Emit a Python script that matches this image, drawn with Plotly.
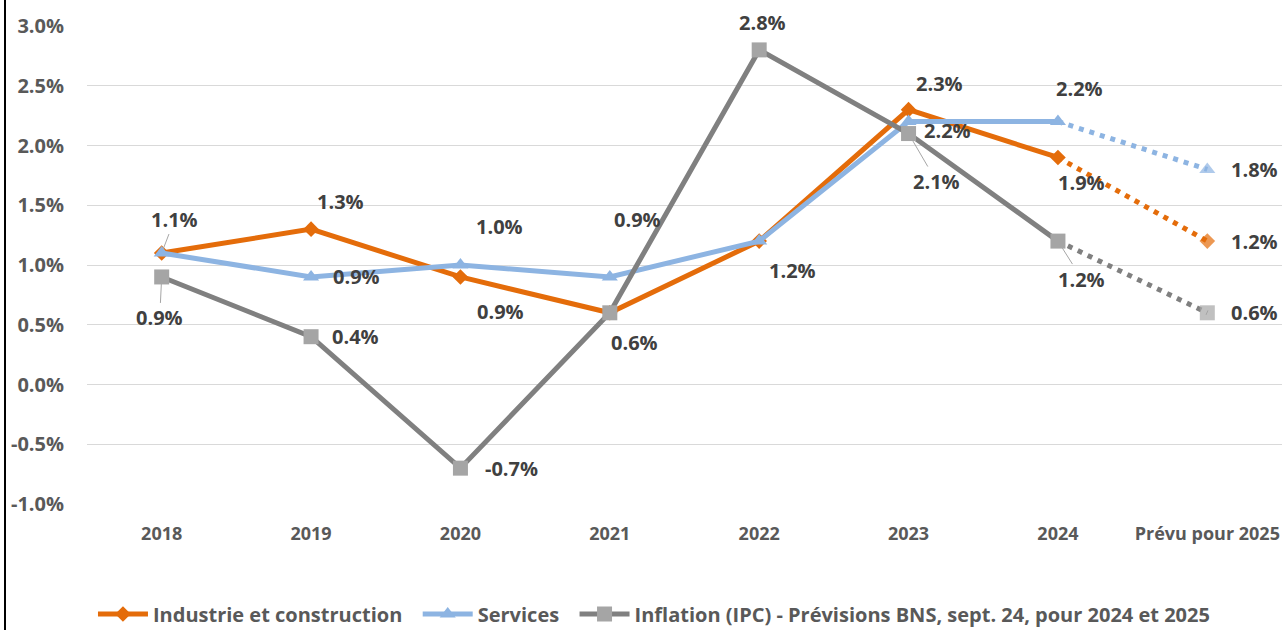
import plotly.graph_objects as go

categories = ["2018", "2019", "2020", "2021", "2022", "2023", "2024", "Prévu pour 2025"]
industrie = [1.1, 1.3, 0.9, 0.6, 1.2, 2.3, 1.9, 1.2]
services = [1.1, 0.9, 1.0, 0.9, 1.2, 2.2, 2.2, 1.8]
inflation = [0.9, 0.4, -0.7, 0.6, 2.8, 2.1, 1.2, 0.6]
y_ticks = [-1.0, -0.5, 0.0, 0.5, 1.0, 1.5, 2.0, 2.5, 3.0]

names = ["Industrie et construction", "Services",
         "Inflation (IPC) - Prévisions BNS, sept. 24, pour 2024 et 2025"]

ORANGE = "#E46C0A"
BLUE = "#8DB4E2"
GRAY_LINE = "#808080"
GRAY_MARK = "#A5A5A5"
LABEL_COL = "#404040"
AXIS_COL = "#595959"
FONT = "Open Sans"

n_hist = 7  # 2018..2024 solid, 2025 forecast dotted

series = [
    (industrie, names[0], ORANGE, ORANGE, "diamond", 12),
    (services, names[1], BLUE, BLUE, "triangle-up", 14),
    (inflation, names[2], GRAY_LINE, GRAY_MARK, "square", 15),
]

fig = go.Figure()

# forecast dotted segments (drawn first)
for vals, name, lc, mc, sym, ms in series:
    fig.add_trace(go.Scatter(
        x=categories[n_hist - 1:], y=vals[n_hist - 1:], mode="lines+markers",
        line=dict(color=lc, width=5, dash="5px,6px"),
        marker=dict(symbol=sym, size=[0, ms], color=mc, line=dict(width=0)),
        showlegend=False, hoverinfo="skip"))

# solid historical lines
for vals, name, lc, mc, sym, ms in series:
    fig.add_trace(go.Scatter(
        x=categories[:n_hist], y=vals[:n_hist], mode="lines+markers",
        name=name + "\u00a0\u00a0",
        line=dict(color=lc, width=5),
        marker=dict(symbol=sym, size=ms, color=mc, line=dict(width=0))))

# data label offsets (pixels) per series; None = label not shown
off_ind = [(13, -34, True), (29, -28, False), (40, 35, False), (25, 30, False),
           (33, 29, False), (31, -26, False), (24, 25, False), (47, 0, False)]
off_srv = [None, (45, 0, False), (39, -39, False), (28, -57, False),
           None, (39, 9, False), (22, -33, False), (47, 0, False)]
off_inf = [(-2, 41, True), (44, 0, False), (51, 0, False), None,
           (3, -27, False), (28, 48, True), (24, 38, True), (47, 0, False)]

lab_font = dict(family=FONT, size=20, color=LABEL_COL, weight="bold")
for vals, offs in [(industrie, off_ind), (services, off_srv), (inflation, off_inf)]:
    for i, (v, o) in enumerate(zip(vals, offs)):
        if o is None:
            continue
        dx, dy, leader = o
        txt = f"{v:.1f}%"
        if leader:
            fig.add_annotation(x=i, y=v, text=txt, showarrow=True, arrowhead=0,
                               arrowwidth=1, arrowcolor="#A6A6A6", ax=dx, ay=dy,
                               standoff=4, font=lab_font)
        else:
            fig.add_annotation(x=i, y=v, text=txt, showarrow=False,
                               xshift=dx, yshift=-dy, font=lab_font)

# left frame line
fig.add_shape(type="line", xref="paper", yref="paper", xsizemode="pixel", ysizemode="pixel",
              xanchor=0, yanchor=0, x0=-82, x1=-82, y0=-130, y1=510,
              line=dict(color="black", width=2))

fig.update_layout(
    width=1282, height=630,
    margin=dict(l=87, r=0, t=26, b=126, autoexpand=False),
    paper_bgcolor="white", plot_bgcolor="white",
    font=dict(family=FONT),
    xaxis=dict(type="category", categoryorder="array", categoryarray=categories,
               showgrid=False, zeroline=False, showline=False, ticks="",
               tickfont=dict(family=FONT, size=18, color=AXIS_COL, weight="bold"),
               ticklabelstandoff=17, range=[-0.5, len(categories) - 0.5]),
    yaxis=dict(range=[-1.0, 3.0], tickvals=y_ticks,
               ticktext=[f"{t:.1f}%" for t in y_ticks],
               showgrid=True, gridcolor="#D9D9D9", gridwidth=1, zeroline=False,
               showline=False, ticks="", ticklabelstandoff=22,
               tickfont=dict(family=FONT, size=20, color=AXIS_COL, weight="bold")),
    legend=dict(orientation="h", x=0.005, xanchor="left", y=-(614 - 504) / 478,
                yanchor="middle",
                font=dict(family=FONT, size=20, color=AXIS_COL, weight="bold"),
                itemwidth=50, tracegroupgap=0, bgcolor="rgba(0,0,0,0)",
                borderwidth=0),
    showlegend=True,
)

fig.write_html("out.html", config={"displayModeBar": False},
               post_script="document.body.style.margin='0';")
